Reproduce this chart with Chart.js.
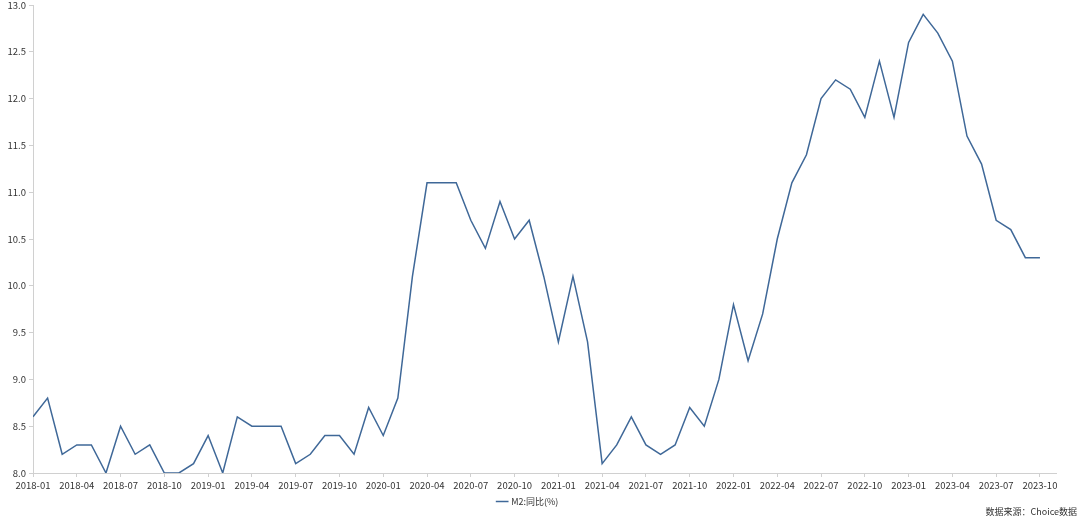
<!DOCTYPE html>
<html>
<head>
<meta charset="utf-8">
<script src="https://cdn.jsdelivr.net/npm/chart.js@4"></script>
<style>
  html, body { margin: 0; padding: 0; background: #fff; }
  .wrap { position: relative; width: 1080px; height: 523px; }
  .source {
    position: absolute; right: 3px; top: 505px;
    font: 9px "Noto Sans CJK SC", sans-serif; color: #333;
  }
</style>
</head>
<body>
<div class="wrap">
  <canvas id="m2Chart" width="1080" height="523"></canvas>
  <div class="source">数据来源：Choice数据</div>
</div>
<script>
const months = [
  '2018-01','2018-02','2018-03','2018-04','2018-05','2018-06','2018-07','2018-08','2018-09','2018-10','2018-11','2018-12',
  '2019-01','2019-02','2019-03','2019-04','2019-05','2019-06','2019-07','2019-08','2019-09','2019-10','2019-11','2019-12',
  '2020-01','2020-02','2020-03','2020-04','2020-05','2020-06','2020-07','2020-08','2020-09','2020-10','2020-11','2020-12',
  '2021-01','2021-02','2021-03','2021-04','2021-05','2021-06','2021-07','2021-08','2021-09','2021-10','2021-11','2021-12',
  '2022-01','2022-02','2022-03','2022-04','2022-05','2022-06','2022-07','2022-08','2022-09','2022-10','2022-11','2022-12',
  '2023-01','2023-02','2023-03','2023-04','2023-05','2023-06','2023-07','2023-08','2023-09','2023-10'
];

const m2Yoy = [
  8.6, 8.8, 8.2, 8.3, 8.3, 8.0, 8.5, 8.2, 8.3, 8.0, 8.0, 8.1,
  8.4, 8.0, 8.6, 8.5, 8.5, 8.5, 8.1, 8.2, 8.4, 8.4, 8.2, 8.7,
  8.4, 8.8, 10.1, 11.1, 11.1, 11.1, 10.7, 10.4, 10.9, 10.5, 10.7, 10.1,
  9.4, 10.1, 9.4, 8.1, 8.3, 8.6, 8.3, 8.2, 8.3, 8.7, 8.5, 9.0,
  9.8, 9.2, 9.7, 10.5, 11.1, 11.4, 12.0, 12.2, 12.1, 11.8, 12.4, 11.8,
  12.6, 12.9, 12.7, 12.4, 11.6, 11.3, 10.7, 10.6, 10.3, 10.3
];

const yMin = 8.0;
const yMax = 13.0;
const yStep = 0.5;
const xTickEvery = 3;

const lineColor = '#3f6898';
const axisColor = '#d0d0d0';
const textColor = '#333';
const fontFamily = '"Noto Sans CJK SC", "Noto Sans", sans-serif';

new Chart(document.getElementById('m2Chart'), {
  type: 'line',
  data: {
    datasets: [{
      label: 'M2:同比(%)',
      data: m2Yoy.map((v, i) => ({ x: i, y: v })),
      borderColor: lineColor,
      backgroundColor: lineColor,
      borderWidth: 1.5,
      pointRadius: 0,
      tension: 0,
    }],
  },
  options: {
    responsive: false,
    animation: false,
    layout: { padding: { top: 5, right: 24, bottom: 7, left: 0 } },
    scales: {
      x: {
        type: 'linear',
        min: 0,
        max: 70.1,
        afterBuildTicks: (axis) => {
          const ticks = [];
          for (let i = 0; i < months.length; i += xTickEvery) ticks.push({ value: i });
          axis.ticks = ticks;
        },
        afterFit: (axis) => { axis.height = 18; },
        border: { color: axisColor },
        grid: { drawOnChartArea: false, drawTicks: true, tickLength: 4, color: axisColor },
        ticks: {
          color: textColor,
          font: { family: fontFamily, size: 9.5 },
          padding: 3,
          maxRotation: 0,
          autoSkip: false,
          callback: (value) => months[value],
        },
      },
      y: {
        min: yMin,
        max: yMax,
        afterFit: (axis) => {
          axis.width = 33;
          axis.paddingTop = 0;
          axis.paddingBottom = 0;
        },
        border: { color: axisColor },
        grid: { drawOnChartArea: false, drawTicks: true, tickLength: 4, color: axisColor },
        ticks: {
          stepSize: yStep,
          color: textColor,
          font: { family: fontFamily, size: 9.5 },
          padding: 3,
          callback: (value) => value.toFixed(1),
        },
      },
    },
    plugins: {
      legend: {
        position: 'bottom',
        labels: {
          usePointStyle: true,
          pointStyle: 'line',
          boxWidth: 9,
          color: textColor,
          font: { family: fontFamily, size: 9 },
          padding: 6,
        },
      },
      tooltip: { enabled: false },
    },
  },
});
</script>
</body>
</html>
